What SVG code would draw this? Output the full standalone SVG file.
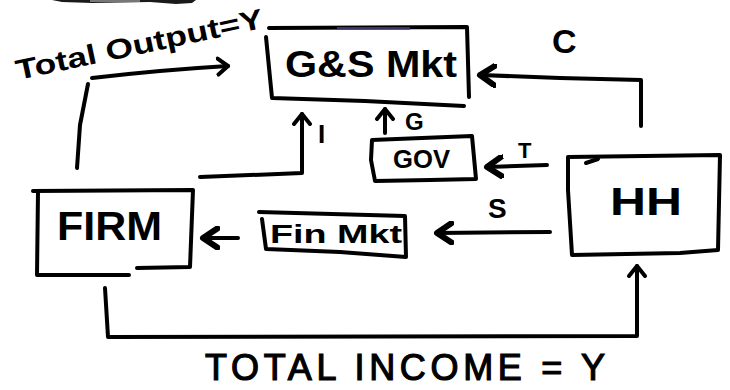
<svg xmlns="http://www.w3.org/2000/svg" width="730" height="390" viewBox="0 0 730 390">
<defs>
<style>
.ln{fill:none;stroke:#000;stroke-width:4;stroke-linecap:round;stroke-linejoin:round}
.bx{fill:none;stroke:#000;stroke-width:4;stroke-linecap:round;stroke-linejoin:round}
.tx{font-family:"Liberation Sans",Arial,sans-serif;font-weight:bold;fill:#000}
</style>
<marker id="chev" markerUnits="userSpaceOnUse" markerWidth="20" markerHeight="24" refX="12" refY="10" orient="auto" viewBox="0 0 20 20">
<path d="M2,2 L12,10 L2,18" fill="none" stroke="#000" stroke-width="4" stroke-linecap="round" stroke-linejoin="round"/>
</marker>
<marker id="bold" markerUnits="userSpaceOnUse" markerWidth="24" markerHeight="24" refX="14" refY="10" orient="auto" viewBox="0 0 20 20">
<path d="M2,2 L14,10 L2,18" fill="none" stroke="#000" stroke-width="5" stroke-linecap="round" stroke-linejoin="round"/>
</marker>
</defs>
<rect width="730" height="390" fill="#fff"/>
<path d="M52,0 L196,0 L192,3 L176,4 L150,2 L92,3 L62,2 Z" fill="#1a1a1a"/>
<rect x="90" y="0" width="50" height="2" fill="#777"/>

<g id="connectors">
<path class="ln" d="M77,168 L80,125 L88,84"/>
<path class="ln" d="M92,78 Q160,70 228,66" marker-end="url(#chev)"/>
<path class="ln" d="M200,177 L302,173 L302,114" marker-end="url(#chev)"/>
<path class="ln" d="M385,133 L385,109" marker-end="url(#chev)"/>
<path class="ln" d="M641,126 L641,80 L560,78 L480,75" marker-end="url(#bold)"/>
<path class="ln" d="M547,165 L487,167" marker-end="url(#bold)"/>
<path class="ln" d="M550,232 L437,233" marker-end="url(#bold)"/>
<path class="ln" d="M238,238 L203,238" marker-end="url(#bold)"/>
<path class="ln" d="M105,288 L108,337 L637,336 L637,266" marker-end="url(#chev)"/>
</g>

<g id="gs-mkt">
<path class="bx" d="M269,28 L467,27 L469,97"/>
<path class="bx" d="M266,37 L272,98 L365,101 L464,106"/>
<rect x="337" y="27" width="73" height="3" fill="#4b3f80" opacity="0.8"/>
<text class="tx" x="285" y="77" font-size="36" textLength="172" lengthAdjust="spacingAndGlyphs">G&amp;S Mkt</text>
</g>

<g id="gov">
<path class="bx" d="M372,140 L472,136 L476,179 L430,180 L375,181 L371,160 Z"/>
<text class="tx" x="393" y="168" font-size="26" textLength="57" lengthAdjust="spacingAndGlyphs">GOV</text>
</g>

<g id="hh">
<path class="bx" d="M568,157 L720,155 L718,250 L680,253 L572,255 L568,190 Z"/>
<path class="bx" d="M586,163 L598,159"/>
<text class="tx" x="610" y="215" font-size="38" textLength="72" lengthAdjust="spacingAndGlyphs">HH</text>
</g>

<g id="firm">
<path class="bx" d="M33,191 L193,190 L190,267 L137,268"/>
<path class="bx" d="M38,192 L37,275 L129,275"/>
<text class="tx" x="57" y="240" font-size="40" textLength="105" lengthAdjust="spacingAndGlyphs">FIRM</text>
</g>

<g id="fin-mkt">
<path class="bx" d="M259,212 L405,216 L406,257 L340,252 L266,249 L262,219"/>
<text class="tx" x="270" y="243" font-size="25" textLength="132" lengthAdjust="spacingAndGlyphs">Fin Mkt</text>
</g>

<g id="labels">
<text class="tx" transform="translate(18,80) rotate(-12)" x="0" y="0" font-size="28" textLength="252" lengthAdjust="spacingAndGlyphs">Total Output=Y</text>
<text class="tx" x="318" y="143" font-size="26">I</text>
<text class="tx" x="405" y="130" font-size="24">G</text>
<text class="tx" x="552" y="53" font-size="34">C</text>
<text class="tx" x="518" y="158" font-size="22">T</text>
<text class="tx" x="488" y="218" font-size="28">S</text>
<text class="tx" x="205" y="380" font-size="36" style="font-weight:normal" stroke="#000" stroke-width="1.2" textLength="400" lengthAdjust="spacing">TOTAL INCOME = Y</text>
</g>
</svg>
